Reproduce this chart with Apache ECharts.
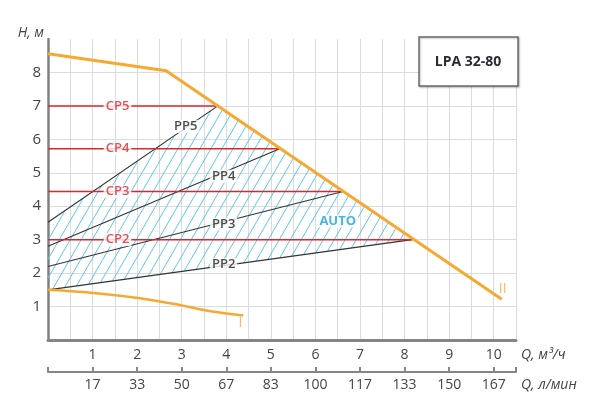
<!DOCTYPE html>
<html>
<head>
<meta charset="utf-8">
<style>html,body{margin:0;padding:0;background:#fff}#c{width:600px;height:408px}</style>
<script src="https://cdn.jsdelivr.net/npm/echarts@6/dist/echarts.min.js"></script>
</head>
<body>
<div id="c"></div>
<script>
// ---- data ----
const cpNames = ['CP5', 'CP4', 'CP3', 'CP2'];
const cpHead = [7.0, 5.72, 4.44, 3.0];
const kneeFlow = [3.81, 5.2, 6.62, 8.17];
const ppNames = ['PP5', 'PP4', 'PP3', 'PP2'];
const ppStartHead = [3.52, 2.8, 2.2, 1.5];
const curveIIFlow = [0, 2.65, 10.18];
const curveIIHead = [8.56, 8.05, 1.22];
const curveIFlow = [0, 1.08, 2.06, 2.95, 3.55, 4.38];
const curveIHead = [1.5, 1.40, 1.25, 1.05, 0.88, 0.73];
const qTicks = [1, 2, 3, 4, 5, 6, 7, 8, 9, 10];
const lpmLabels = ['17', '33', '50', '67', '83', '100', '117', '133', '150', '167'];
const hTicks = [1, 2, 3, 4, 5, 6, 7, 8];
// label anchors (Q, H)
const cpLabelFlow = 1.56;
const ppLabelAt = [[3.09, 6.38], [3.94, 4.9], [3.94, 3.47], [3.94, 2.25]];
const autoLabel = [6.5, 3.56];
const roman = [['II', 10.2, 1.53], ['I', 4.32, 0.51]];

const FONT = 'Open Sans';
const ORANGE = '#f7a830';
const RED = '#e0242c';

function makeHatch() {
  const w = 11, h = 19;
  const c = document.createElement('canvas');
  c.width = w; c.height = h;
  const g = c.getContext('2d');
  g.strokeStyle = '#5cc6ef';
  g.lineWidth = 1;
  for (const o of [-w, 0, w]) {
    g.beginPath(); g.moveTo(o, h); g.lineTo(o + w, 0); g.stroke();
  }
  return c;
}
const hatch = { image: makeHatch(), repeat: 'repeat' };

// hatched AUTO region: PP5 line, curve II, PP2 line
const hatchPts = [
  [0, ppStartHead[3]],
  [0, ppStartHead[0]],
  [kneeFlow[0], cpHead[0]],
  [kneeFlow[3], cpHead[3]],
];

const series = [];
series.push({
  type: 'custom', silent: true, clip: true, z: 1,
  data: [0],
  renderItem: (params, api) => ({
    type: 'polygon',
    shape: { points: hatchPts.map(p => api.coord(p)) },
    style: { fill: hatch, stroke: null }
  })
});
ppNames.forEach((n, i) => series.push({
  type: 'line', name: n, silent: true, symbol: 'none', z: 2,
  lineStyle: { color: '#333', width: 1.1 },
  data: [[0, ppStartHead[i]], [kneeFlow[i], cpHead[i]]]
}));
cpNames.forEach((n, i) => series.push({
  type: 'line', name: n, silent: true, symbol: 'none', z: 3,
  color: RED,
  lineStyle: { color: RED, width: 1.5 },
  data: [[0, cpHead[i]], [kneeFlow[i], cpHead[i]]]
}));
series.push({
  type: 'line', name: 'I', silent: true, symbol: 'none', smooth: 0.4, z: 4,
  lineStyle: { color: ORANGE, width: 2.5 },
  data: curveIFlow.map((q, i) => [q, curveIHead[i]])
});
series.push({
  type: 'line', name: 'II', silent: true, symbol: 'none', z: 4,
  lineStyle: { color: ORANGE, width: 3 },
  data: curveIIFlow.map((q, i) => [q, curveIIHead[i]])
});
function labelSeries(data, color, weight, size, bg) {
  return {
    type: 'scatter', silent: true, symbolSize: 1, z: 5,
    itemStyle: { color: 'rgba(0,0,0,0)' },
    label: {
      show: true, position: 'inside', formatter: p => p.value[2],
      color: color, fontFamily: FONT, fontWeight: weight, fontSize: size,
      backgroundColor: bg ? '#fff' : 'transparent', padding: [0, 2]
    },
    data: data
  };
}
series.push(labelSeries(cpNames.map((n, i) => [cpLabelFlow, cpHead[i], n]), RED, 600, 13, true));
series.push(labelSeries(ppNames.map((n, i) => [ppLabelAt[i][0], ppLabelAt[i][1], n]), '#222', 600, 13, true));
series.push(labelSeries([[autoLabel[0], autoLabel[1], 'AUTO']], '#1ea3dc', 'bold', 13, true));
series.push(labelSeries(roman.map(r => [r[1], r[2], r[0]]), ORANGE, 'normal', 14, false));

const option = {
  animation: false,
  textStyle: { fontFamily: FONT },
  grid: { left: 48, right: 84, top: 39, bottom: 68 },
  xAxis: [{
    type: 'value', min: 0, max: 10.5, interval: 0.5,
    axisLine: { show: true, onZero: false, lineStyle: { color: '#858585', width: 3 } },
    axisTick: { show: false },
    axisLabel: {
      color: '#444', fontSize: 14, margin: 8, fontFamily: FONT,
      formatter: v => (qTicks.indexOf(v) >= 0 ? String(v) : '')
    },
    splitLine: { show: true, lineStyle: { color: '#dcdcdc', width: 1 } }
  }, {
    type: 'value', position: 'bottom', offset: 32, min: 0, max: 10.5, interval: 1,
    axisLine: { show: true, onZero: false, lineStyle: { color: '#858585', width: 2 } },
    axisTick: { show: true, inside: true, length: 5, lineStyle: { color: '#858585', width: 2 } },
    axisLabel: {
      color: '#444', fontSize: 14, margin: 6, fontFamily: FONT,
      formatter: v => { const i = qTicks.indexOf(v); return i >= 0 ? lpmLabels[i] : ''; }
    },
    splitLine: { show: false }
  }],
  yAxis: {
    type: 'value', min: 0, max: 9, interval: 1,
    axisLine: { show: true, lineStyle: { color: '#808080', width: 2.5 } },
    axisTick: { show: false },
    axisLabel: {
      color: '#444', fontSize: 15, margin: 7, fontFamily: FONT, padding: [0, 0, 8, 0],
      formatter: v => (hTicks.indexOf(v) >= 0 ? String(v) : '')
    },
    splitLine: { show: true, showMaxLine: false, lineStyle: { color: '#dcdcdc', width: 1 } }
  },
  graphic: [
    {
      type: 'rect', z: 100, shape: { x: 419, y: 37, width: 99, height: 49 },
      style: { fill: '#fff', stroke: '#6a6a6a', lineWidth: 1.5,
        shadowBlur: 2, shadowColor: 'rgba(0,0,0,0.25)', shadowOffsetX: 1, shadowOffsetY: 1 }
    },
    {
      type: 'text', z: 101, x: 468, y: 62,
      style: { text: 'LPA 32-80', fill: '#2b2b35', font: 'bold 14px "Open Sans"', align: 'center', verticalAlign: 'middle' }
    },
    {
      type: 'text', z: 101, x: 44, y: 33,
      style: { text: 'H, м', fill: '#444', font: 'italic 14px "Open Sans"', align: 'right', verticalAlign: 'middle' }
    },
    {
      type: 'text', z: 101, x: 521, y: 355,
      style: { text: 'Q, м³/ч', fill: '#444', font: 'italic 14px "Open Sans"', align: 'left', verticalAlign: 'middle' }
    },
    {
      type: 'text', z: 101, x: 521, y: 385,
      style: { text: 'Q, л/мин', fill: '#444', font: 'italic 14px "Open Sans"', align: 'left', verticalAlign: 'middle' }
    }
  ],
  series: series
};
const chart = echarts.init(document.getElementById('c'), null, { renderer: 'canvas' });
chart.setOption(option);
</script>
</body>
</html>
